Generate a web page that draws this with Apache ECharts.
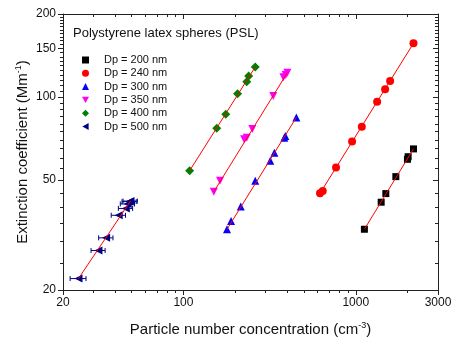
<!DOCTYPE html>
<html>
<head>
<meta charset="utf-8">
<script src="https://cdn.jsdelivr.net/npm/echarts@6/dist/echarts.min.js"></script>
<style>
  html, body { margin: 0; padding: 0; background: #fff; }
  #chart { width: 454px; height: 337px; }
</style>
</head>
<body>
<div id="chart"></div>
<script>
// particle number concentration (cm-3) and extinction coefficient (Mm-1) per size
const n200 = [1122, 1404, 1494, 1708, 1994, 2013, 2162];
const b200 = [33.2, 41.6, 44.7, 51.5, 59.5, 60.8, 64.9];
const n240 = [620, 643, 768, 952, 1084, 1330, 1480, 1582, 2162];
const b240 = [44.8, 45.7, 55.6, 69.1, 78.1, 96.2, 106.7, 114.4, 156.6];
const n300 = [179, 189, 215, 261, 319, 337, 385, 390, 452];
const b300 = [33.2, 35.6, 40.1, 49.8, 58.8, 62.9, 71.3, 72.3, 84.4];
const n350 = [150, 163, 225, 233, 251, 332, 380, 392, 401];
const b350 = [45.4, 49.8, 70.3, 71.3, 76.6, 101, 117.9, 120.2, 122.6];
const n400 = [108.6, 156, 176, 206, 233, 239, 261];
const b400 = [54.1, 77.1, 86.6, 102.9, 113.7, 119.3, 128.6];
const n500 = [24.6, 32.1, 35.6, 42.1, 46.3, 47.5, 48.6, 49.3];
const b500 = [22.0, 27.8, 30.9, 37.3, 39.5, 41.0, 41.8, 42.0];
const n500Err = [2.6, 3.0, 3.4, 4.0, 4.4, 4.5, 4.6, 4.7];

// fitted lines, end points
const fitN200 = [1122, 2162], fitB200 = [33.2, 64.9];
const fitN240 = [620, 2162], fitB240 = [44.8, 156.6];
const fitN300 = [179, 452], fitB300 = [33.2, 84.4];
const fitN350 = [150, 401], fitB350 = [45.4, 122.6];
const fitN400 = [108.6, 261], fitB400 = [54.1, 128.6];
const fitN500 = [24.6, 49.3], fitB500 = [22.0, 42.0];

const xMajor = [20, 100, 1000, 3000];
const xMinor = [30, 40, 50, 60, 70, 80, 90, 200, 300, 400, 500, 600, 700, 800, 900, 2000];
const yMajor = [20, 50, 100, 150, 200];
const yMinor = [25, 30, 35, 40, 45, 55, 60, 65, 70, 75, 80, 85, 90, 95,
  105, 110, 115, 120, 125, 130, 135, 140, 145, 155, 160, 165, 170, 175, 180, 185, 190, 195];

const sizes = ['Dp = 200 nm', 'Dp = 240 nm', 'Dp = 300 nm', 'Dp = 350 nm', 'Dp = 400 nm', 'Dp = 500 nm'];
const colors = ['#000000', '#ff0000', '#0000ff', '#ff00ff', '#008000', '#000080'];
const symbols = ['rect', 'circle', 'triangle', 'path://M0,0 L10,0 L5,9 Z', 'diamond', 'path://M9,0 L9,10 L0,5 Z'];
const symSizes = [7, 8, 8, 8, 9, 8];

const pts = (xs, ys) => xs.map((x, i) => [x, ys[i]]);
const allN = [n200, n240, n300, n350, n400, n500];
const allB = [b200, b240, b300, b350, b400, b500];
const fitsN = [fitN200, fitN240, fitN300, fitN350, fitN400, fitN500];
const fitsB = [fitB200, fitB240, fitB300, fitB350, fitB400, fitB500];

const AX = '#222';
const lg = v => Math.log10(v);
const xMin = lg(20), xMax = lg(3000), yMin = lg(20), yMax = lg(200);

function tickAxis(pos, min, max, values, len, inside, labels) {
  return {
    type: 'value', position: pos, min: min, max: max,
    axisLine: { show: false, onZero: false },
    splitLine: { show: false },
    axisTick: { show: true, inside: inside, length: len, customValues: values.map(lg),
      lineStyle: { color: AX, width: 1 } },
    axisLabel: labels ? {
      show: true, customValues: values.map(lg), margin: 7,
      color: '#111', fontSize: 12, fontFamily: 'Liberation Sans, Arial',
      formatter: v => String(Math.round(Math.pow(10, v)))
    } : { show: false }
  };
}

const richName = {
  a: { fontSize: 15, fontFamily: 'Liberation Sans, Arial', color: '#111' },
  s: { fontSize: 9, fontFamily: 'Liberation Sans, Arial', color: '#111', padding: [0, 0, 9, 0] }
};

const series = [];
// error bars for the 500 nm particles
series.push({
  type: 'custom', name: 'err500', xAxisIndex: 0, yAxisIndex: 0, silent: true, z: 2,
  data: n500.map((x, i) => [x, b500[i], n500Err[i]]),
  renderItem: (params, api) => {
    const x = api.value(0), y = api.value(1), e = api.value(2);
    const p1 = api.coord([x - e, y]);
    const p2 = api.coord([x + e, y]);
    const st = { stroke: '#000080', lineWidth: 1 };
    return {
      type: 'group',
      children: [
        { type: 'line', shape: { x1: p1[0], y1: p1[1], x2: p2[0], y2: p2[1] }, style: st },
        { type: 'line', shape: { x1: p1[0], y1: p1[1] - 2.5, x2: p1[0], y2: p1[1] + 2.5 }, style: st },
        { type: 'line', shape: { x1: p2[0], y1: p2[1] - 2.5, x2: p2[0], y2: p2[1] + 2.5 }, style: st }
      ]
    };
  }
});
sizes.forEach((name, i) => {
  series.push({
    type: 'scatter', name: name, xAxisIndex: 0, yAxisIndex: 0, z: 3,
    symbol: symbols[i], symbolSize: symSizes[i],
    itemStyle: { color: colors[i], opacity: 1 },
    data: pts(allN[i], allB[i])
  });
});
sizes.forEach((name, i) => {
  series.push({
    type: 'line', name: 'fit' + i, xAxisIndex: 0, yAxisIndex: 0, z: 4, silent: true,
    symbol: 'none', lineStyle: { color: '#ff0000', width: 1 },
    data: pts(fitsN[i], fitsB[i])
  });
});

const chart = echarts.init(document.getElementById('chart'));
chart.setOption({
  animation: false,
  backgroundColor: '#fff',
  title: {
    text: 'Polystyrene latex spheres (PSL)', left: 73, top: 27, padding: 0,
    textStyle: { fontSize: 13, fontWeight: 'normal', color: '#111', fontFamily: 'Liberation Sans, Arial' }
  },
  legend: {
    data: sizes, orient: 'vertical', left: 77, top: 49,
    itemWidth: 7, itemHeight: 7, itemGap: 1.3,
    textStyle: { fontSize: 11, lineHeight: 12, color: '#111', fontFamily: 'Liberation Sans, Arial', padding: [0, 0, 0, 10] }
  },
  grid: { left: 63, right: 16, top: 14, bottom: 47, outerBoundsMode: 'none' },
  xAxis: [
    {
      type: 'log', logBase: 10, min: 20, max: 3000, position: 'bottom',
      name: '{a|Particle number concentration (cm}{s|-3}{a|)}',
      nameLocation: 'middle', nameGap: 31, nameTextStyle: { rich: richName },
      axisLine: { show: true, onZero: false, lineStyle: { color: AX, width: 1 } },
      axisTick: { show: false }, axisLabel: { show: false }, splitLine: { show: false }
    },
    tickAxis('bottom', xMin, xMax, xMajor, 5, false, true),
    tickAxis('bottom', xMin, xMax, xMinor, 3, false, false),
    Object.assign(tickAxis('top', xMin, xMax, xMajor, 5, true, false),
      { axisLine: { show: true, onZero: false, lineStyle: { color: AX, width: 1 } } }),
    tickAxis('top', xMin, xMax, xMinor, 3, true, false)
  ],
  yAxis: [
    {
      type: 'log', logBase: 10, min: 20, max: 200, position: 'left',
      name: '{a|Extinction coefficient (Mm}{s|-1}{a|)}',
      nameLocation: 'middle', nameGap: 31, nameRotate: 90, nameTextStyle: { rich: richName },
      axisLine: { show: true, onZero: false, lineStyle: { color: AX, width: 1 } },
      axisTick: { show: false }, axisLabel: { show: false }, splitLine: { show: false }
    },
    tickAxis('left', yMin, yMax, yMajor, 5, false, true),
    tickAxis('left', yMin, yMax, yMinor, 3, false, false),
    Object.assign(tickAxis('right', yMin, yMax, yMajor, 5, true, false),
      { axisLine: { show: true, onZero: false, lineStyle: { color: AX, width: 1 } } }),
    tickAxis('right', yMin, yMax, yMinor, 3, true, false)
  ],
  series: series
});
</script>
</body>
</html>
